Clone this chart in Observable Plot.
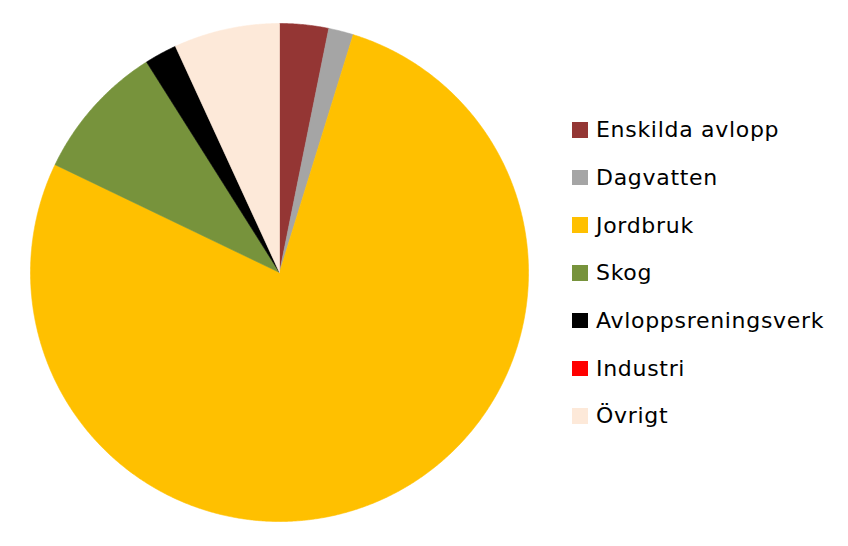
<!DOCTYPE html>
<html>
<head>
<meta charset="utf-8">
<script src="https://cdn.jsdelivr.net/npm/d3@7"></script>
<script src="https://cdn.jsdelivr.net/npm/@observablehq/plot@0.6"></script>
<style>
  html, body { margin: 0; padding: 0; background: #fff; }
  #wrap { position: relative; width: 848px; height: 546px; overflow: hidden; }
  #legend { position: absolute; left: 572px; top: 106px; font-family: "DejaVu Sans", sans-serif; font-size: 22px; letter-spacing: 0.7px; color: #000; }
  .row { height: 47.7px; display: flex; align-items: center; }
  .sw { width: 15.5px; height: 15.5px; margin-right: 8.5px; flex: none; }
</style>
</head>
<body>
<div id="wrap"></div>
<script>
const categories = ["Enskilda avlopp", "Dagvatten", "Jordbruk", "Skog", "Avloppsreningsverk", "Industri", "Övrigt"];
const values = [3.17, 1.61, 77.3, 8.9, 2.1, 0, 6.86];
const colors = ["#943634", "#A5A5A5", "#FFC000", "#77933C", "#000000", "#FF0000", "#FDE9D9"];

const pie = d3.pie().sort(null).value(d => d.value)(categories.map((c, i) => ({key: c, value: values[i]})));
const pts = [];
for (const s of pie) {
  if (s.endAngle - s.startAngle <= 0) continue;
  const k = s.data.key;
  pts.push({key: k, x: 0, y: 0});
  const n = Math.max(2, Math.ceil((s.endAngle - s.startAngle) / 0.005));
  for (let j = 0; j <= n; j++) {
    const a = s.startAngle + (s.endAngle - s.startAngle) * j / n;
    pts.push({key: k, x: Math.sin(a), y: Math.cos(a)});
  }
  pts.push({key: k, x: 0, y: 0});
}

const chart = Plot.plot({
  width: 848,
  height: 546,
  margin: 0,
  x: {domain: [-1, 1], range: [30, 528], axis: null},
  y: {domain: [-1, 1], range: [521, 23], axis: null},
  color: {type: "ordinal", domain: categories, range: colors},
  marks: [
    Plot.line(pts, {x: "x", y: "y", z: "key", fill: "key", stroke: "key", strokeWidth: 0.6, curve: "linear"})
  ]
});
const wrap = document.getElementById("wrap");
wrap.appendChild(chart);

const legend = document.createElement("div");
legend.id = "legend";
categories.forEach((c, i) => {
  const row = document.createElement("div");
  row.className = "row";
  const sw = document.createElement("div");
  sw.className = "sw";
  sw.style.background = colors[i];
  const t = document.createElement("span");
  t.textContent = c;
  row.appendChild(sw);
  row.appendChild(t);
  legend.appendChild(row);
});
wrap.appendChild(legend);
</script>
</body>
</html>
